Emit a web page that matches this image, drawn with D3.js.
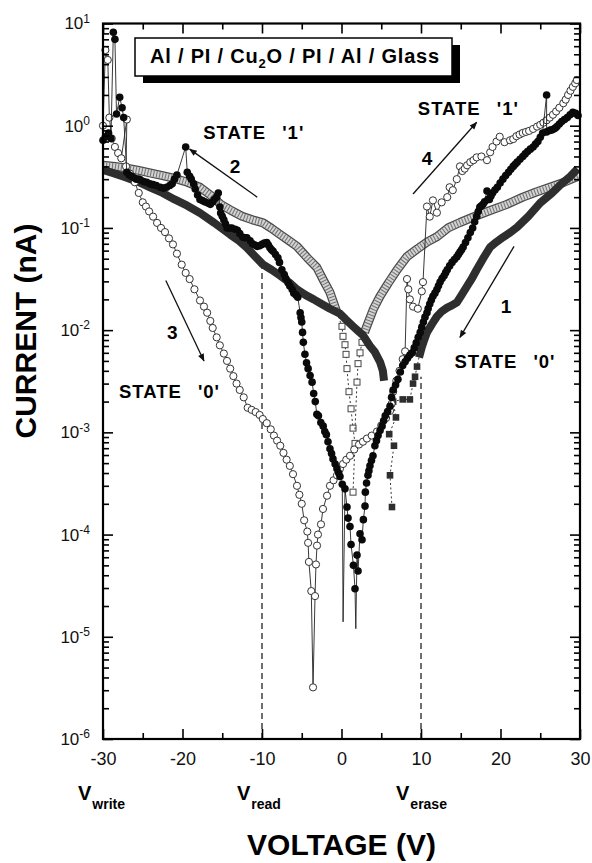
<!DOCTYPE html>
<html lang="en">
<head>
<meta charset="utf-8">
<title>Al / PI / Cu2O / PI / Al memory sweep</title>
<script src="https://cdn.jsdelivr.net/npm/d3@7"></script>
<style>
  body { margin: 0; background: #fff; }
  svg { font-family: "Liberation Sans", Arial, Helvetica, sans-serif; }
  .axis text { fill: #111; }
  .axis line { stroke: #000; stroke-width: 1.6; }
  .axis path { display: none; }
  .frame { fill: none; stroke: #000; stroke-width: 2.2; }
  .lbl { font-weight: bold; fill: #000; }
  .vref { stroke: #333; stroke-width: 1.4; stroke-dasharray: 6, 4; }
  .link { fill: none; stroke: #222; stroke-width: 0.9; }
  .dotlink { fill: none; stroke: #333; stroke-width: 1; stroke-dasharray: 2, 2.5; }
</style>
</head>
<body>
<script>

// ---- tick values ----
var xTicks = [-30, -20, -10, 0, 10, 20, 30];
var xMinor = [-25, -15, -5, 5, 15, 25];
var yDecades = [1e-6, 1e-5, 1e-4, 1e-3, 1e-2, 1e-1, 1, 10];

// ---- data: [voltage (V), current (nA)] ----

// sweep with dark filled squares (thick band)
var darkLeft = [[-30, 0.37], [-28.5, 0.34], [-27, 0.31], [-25.5, 0.28], [-24.1, 0.25], [-22.5, 0.22],
  [-21, 0.19], [-19.4, 0.165], [-17.8, 0.14], [-16, 0.112], [-14, 0.086], [-12.9, 0.075], [-11.9, 0.064],
  [-10.8, 0.052], [-9.9, 0.044], [-8.8, 0.039], [-7.7, 0.034], [-6.5, 0.029], [-5.6, 0.025], [-4.5, 0.022],
  [-3.5, 0.020], [-2.5, 0.018], [-1.45, 0.0162], [-0.2, 0.0145], [0.5, 0.0128], [1.45, 0.0109], [2.1, 0.0098],
  [2.7, 0.0089], [3.58, 0.0070], [4.2, 0.0061], [4.84, 0.0049], [5.2, 0.0040], [5.35, 0.0032]];
var darkRight = [[29.7, 0.38], [28.8, 0.32], [27.9, 0.28], [26.5, 0.22], [25.0, 0.176], [23.5, 0.13],
  [22.1, 0.102], [21.2, 0.09], [20.3, 0.081], [19.5, 0.073], [18.7, 0.065], [17.8, 0.05], [17.0, 0.039],
  [16.4, 0.032], [15.8, 0.027], [15.1, 0.022], [14.5, 0.0186], [13.9, 0.0175], [13.3, 0.0166], [12.6, 0.0152],
  [12.0, 0.0136], [11.4, 0.0115], [10.75, 0.0095], [10.4, 0.0080], [10.1, 0.0068], [9.75, 0.0054]];
var darkTail = [[9.75, 0.0054], [9.5, 0.0044], [9.25, 0.0035], [9.0, 0.0030], [8.6, 0.0021], [7.7, 0.0021],
  [6.5, 0.0020], [6.85, 0.0014], [6.0, 0.00096], [6.6, 0.00074], [6.1, 0.00038], [6.35, 0.000186]];

// sweep with light grey squares (hatched band + open squares near 0 V)
var grayLeft = [[-30, 0.41], [-28.5, 0.40], [-27, 0.385], [-25.5, 0.365], [-24.1, 0.345], [-22.5, 0.325],
  [-21, 0.305], [-19.4, 0.28], [-17.8, 0.25], [-16.5, 0.21], [-15.2, 0.17], [-14, 0.15], [-12.5, 0.13],
  [-11.2, 0.12], [-9.87, 0.112], [-8.8, 0.099], [-7.7, 0.086], [-6.6, 0.075], [-5.6, 0.066], [-4.3, 0.051],
  [-3.1, 0.041], [-2.2, 0.030], [-1.45, 0.0234], [-0.57, 0.0149]];
var grayOpenLeft = [[-0.57, 0.0149], [0.06, 0.0109], [0.19, 0.0087], [0.44, 0.0072], [0.57, 0.0058], [0.69, 0.0042],
  [0.94, 0.0025], [1.2, 0.0017], [1.45, 0.0011], [1.7, 0.00078], [1.45, 0.00026]];
var grayOpenRight = [[1.7, 0.00107], [1.95, 0.0031], [2.08, 0.0047], [2.33, 0.006], [2.58, 0.0076], [2.9, 0.0095]];
var grayRight = [[2.9, 0.0095], [3.2, 0.011], [4.0, 0.016], [4.84, 0.0214], [5.9, 0.029], [7.0, 0.039], [8.2, 0.052],
  [9.5, 0.062], [10.8, 0.073], [12.0, 0.082], [13.4, 0.10], [14.9, 0.113], [16.8, 0.13], [18.7, 0.148],
  [20.8, 0.17], [22.8, 0.20], [24.5, 0.225], [26.2, 0.25], [28.0, 0.28], [29.75, 0.32]];

// sweep with open circles
var openLeft = [[-30, 1.0], [-29.7, 5.5], [-29.4, 4.4], [-29.2, 1.2], [-28.9, 0.75], [-28.5, 0.62], [-28.1, 0.54],
  [-27.7, 0.48], [-27.0, 1.15], [-27.1, 0.40], [-26.6, 0.34], [-26.0, 0.28], [-25.5, 0.22],
  [-25.0, 0.178], [-24.6, 0.162], [-24.2, 0.145], [-23.7, 0.129], [-23.2, 0.112], [-22.7, 0.100], [-22.2, 0.091],
  [-21.7, 0.079], [-21.2, 0.069], [-20.7, 0.056], [-20.1, 0.0437], [-19.6, 0.0363], [-19.1, 0.0316],
  [-18.5, 0.0251], [-17.8, 0.0195], [-17.3, 0.0170], [-16.9, 0.0148], [-16.5, 0.0123], [-16.2, 0.0105],
  [-15.7, 0.0085], [-15.3, 0.0071], [-14.8, 0.0059], [-14.4, 0.0050], [-14.0, 0.0042], [-13.6, 0.00355],
  [-13.2, 0.0030], [-12.8, 0.0026], [-12.3, 0.0022], [-11.8, 0.00174], [-11.3, 0.00166], [-10.8, 0.00158],
  [-10.3, 0.00148], [-9.9, 0.00135], [-9.4, 0.00123], [-8.9, 0.00107], [-8.5, 0.00093], [-8.1, 0.00083],
  [-7.7, 0.00074], [-7.3, 0.00063], [-6.9, 0.00054], [-6.5, 0.00047], [-6.1, 0.00039], [-5.6, 0.00030],
  [-5.3, 0.000245], [-5.0, 0.000200], [-4.7, 0.000138], [-4.3, 0.000107], [-4.2, 0.000083], [-4.1, 0.000054],
  [-3.8, 0.000028], [-3.58, 3.2e-6]];
var openRight = [[-3.58, 3.2e-6], [-3.33, 2.5e-5], [-3.21, 5.1e-5], [-3.08, 7.8e-5], [-2.96, 1.0e-4], [-2.58, 1.26e-4],
  [-2.33, 1.78e-4], [-1.82, 2.4e-4], [-1.45, 3.0e-4], [-1.0, 3.4e-4], [-0.57, 3.8e-4], [-0.2, 4.4e-4],
  [0.19, 4.9e-4], [0.6, 5.4e-4], [1.07, 5.9e-4], [1.6, 6.8e-4], [2.2, 7.6e-4], [2.7, 8.1e-4], [3.2, 8.7e-4],
  [3.8, 9.3e-4], [4.47, 1.02e-3], [5.0, 1.17e-3], [5.6, 1.38e-3], [6.1, 1.62e-3], [6.3, 1.9e-3], [6.5, 2.5e-3],
  [6.9, 3.2e-3], [7.3, 4.0e-3], [7.7, 5.2e-3], [8.0, 6.2e-3], [8.24, 0.0316], [8.4, 0.0251], [8.6, 0.0200],
  [9.0, 0.0170], [9.6, 0.0162], [10.1, 0.024], [10.25, 0.0295], [10.75, 0.162], [11.1, 0.129], [11.5, 0.186],
  [12.0, 0.141], [12.6, 0.178], [13.3, 0.20], [13.6, 0.25], [14.0, 0.234], [14.5, 0.30], [14.9, 0.40],
  [15.2, 0.36], [15.5, 0.38], [15.8, 0.41], [16.2, 0.44], [16.6, 0.46], [17.0, 0.49], [17.6, 0.50], [18.3, 0.46],
  [18.7, 0.55], [19.0, 0.62], [19.5, 0.70], [19.9, 0.78], [20.5, 0.69], [21.2, 0.72], [21.6, 0.74], [22.0, 0.79],
  [22.4, 0.82], [22.8, 0.85], [23.2, 0.87], [23.6, 0.89], [24.1, 0.93], [24.6, 0.98], [25.0, 1.02], [25.4, 1.07],
  [25.8, 1.13], [26.2, 1.20], [26.6, 1.28], [27.0, 1.38], [27.4, 1.50], [27.9, 1.66], [28.2, 1.80], [28.5, 2.0],
  [28.8, 2.2], [29.1, 2.4], [29.4, 2.6], [29.6, 2.8]];

// sweep with filled black circles
var blackLeft = [[-30, 0.72], [-29.7, 0.78], [-29.3, 0.85], [-29.0, 0.75], [-28.7, 8.2], [-28.5, 7.0], [-28.3, 1.3],
  [-27.9, 1.9], [-27.6, 1.5], [-27.4, 1.2], [-27.0, 0.35], [-26.7, 0.33], [-26.4, 0.32], [-26.1, 0.31],
  [-25.8, 0.30], [-25.5, 0.30], [-25.3, 0.295], [-24.9, 0.285], [-24.5, 0.28], [-24.1, 0.27], [-23.7, 0.265],
  [-23.3, 0.26], [-22.8, 0.25], [-22.4, 0.245], [-22.0, 0.25], [-21.6, 0.26], [-21.3, 0.27], [-21.0, 0.30],
  [-20.7, 0.33], [-19.6, 0.62], [-19.4, 0.35], [-19.1, 0.32], [-18.9, 0.30], [-18.6, 0.27], [-18.4, 0.24],
  [-18.1, 0.21], [-17.8, 0.19], [-17.5, 0.185], [-17.2, 0.18], [-16.8, 0.175], [-16.5, 0.17], [-16.2, 0.18],
  [-16.0, 0.19], [-15.7, 0.20], [-15.5, 0.22], [-15.3, 0.16], [-15.2, 0.14], [-15.0, 0.13], [-14.8, 0.12],
  [-14.6, 0.11], [-14.4, 0.10], [-14.1, 0.10], [-13.8, 0.10], [-13.4, 0.097], [-13.1, 0.095], [-12.8, 0.088],
  [-12.4, 0.081], [-12.1, 0.08], [-11.9, 0.08], [-11.5, 0.075], [-11.2, 0.07], [-10.9, 0.068], [-10.6, 0.066],
  [-10.3, 0.067], [-10.0, 0.069], [-9.7, 0.071], [-9.4, 0.072], [-9.2, 0.068], [-9.0, 0.064], [-8.8, 0.061],
  [-8.6, 0.059], [-8.3, 0.055], [-8.0, 0.051], [-7.8, 0.046], [-7.5, 0.039], [-7.2, 0.035], [-7.0, 0.032],
  [-6.7, 0.029], [-6.5, 0.027], [-6.2, 0.025], [-6.0, 0.023], [-5.7, 0.022], [-5.5, 0.021], [-5.2, 0.0148],
  [-5.1, 0.0133], [-5.0, 0.012], [-4.9, 0.0095], [-4.8, 0.0076], [-4.6, 0.0058], [-4.4, 0.0048], [-4.2, 0.0042],
  [-3.95, 0.0036], [-3.7, 0.0031], [-3.5, 0.0024], [-3.3, 0.0020], [-3.1, 0.0015], [-2.9, 0.00145], [-2.6, 0.00125],
  [-2.3, 0.00115], [-2.1, 0.00102], [-1.9, 0.00095], [-1.7, 0.00081], [-1.45, 0.00069], [-1.25, 0.00062],
  [-1.07, 0.00055], [-0.8, 0.00049], [-0.57, 0.00044], [-0.35, 0.0004], [-0.19, 0.00037], [0.1, 0.00031],
  [0.2, 1.4e-5], [0.44, 0.00028], [0.69, 0.000186], [0.82, 0.000145], [1.07, 0.00012], [1.2, 0.00008]];
var blackRight = [[1.2, 0.00008], [1.5, 0.00005], [1.7, 2.95e-5], [1.8, 1.2e-5], [1.95, 6.3e-5], [2.08, 4.4e-5],
  [2.33, 1.02e-4], [2.58, 8.9e-5], [2.75, 1.4e-4], [2.96, 1.9e-4], [3.0, 2.6e-4], [3.15, 3.2e-4], [3.33, 3.8e-4],
  [3.45, 4.2e-4], [3.58, 4.7e-4], [3.77, 5.3e-4], [3.96, 5.9e-4], [4.2, 7.4e-4], [4.4, 8.3e-4], [4.6, 9.3e-4],
  [4.85, 0.00104], [5.1, 0.00115], [5.3, 0.0013], [5.5, 0.00145], [5.8, 0.0016], [6.1, 0.0018], [6.3, 0.0022],
  [6.5, 0.0026], [6.8, 0.0029], [7.1, 0.0033], [7.4, 0.0039], [7.7, 0.0045], [8.0, 0.0049], [8.3, 0.0053],
  [8.6, 0.0057], [8.9, 0.006], [9.15, 0.0067], [9.4, 0.0075], [9.65, 0.0085], [9.9, 0.0095], [10.1, 0.0107],
  [10.3, 0.012], [10.5, 0.0134], [10.75, 0.0148], [10.9, 0.0163], [11.1, 0.018], [11.3, 0.0197], [11.5, 0.0214],
  [11.75, 0.023], [12.0, 0.025], [12.2, 0.0272], [12.4, 0.0295], [12.65, 0.032], [12.9, 0.034], [13.1, 0.0365],
  [13.3, 0.039], [13.6, 0.0425], [13.9, 0.046], [14.2, 0.049], [14.5, 0.052], [14.7, 0.055], [14.9, 0.058],
  [15.1, 0.061], [15.3, 0.065], [15.6, 0.072], [15.9, 0.08], [16.2, 0.09], [16.5, 0.1], [16.75, 0.115],
  [17.0, 0.13], [17.2, 0.145], [17.4, 0.16], [17.6, 0.165], [17.8, 0.17], [18.0, 0.18], [18.3, 0.23],
  [18.4, 0.19], [18.6, 0.19], [18.8, 0.205], [19.0, 0.22], [19.3, 0.235], [19.6, 0.25], [19.95, 0.275],
  [20.3, 0.3], [20.65, 0.325], [21.0, 0.35], [21.3, 0.375], [21.6, 0.40], [21.85, 0.42], [22.1, 0.44],
  [22.45, 0.47], [22.8, 0.5], [23.1, 0.53], [23.4, 0.56], [23.75, 0.59], [24.1, 0.62], [24.4, 0.66], [24.7, 0.7],
  [25.0, 0.77], [25.3, 0.85], [25.8, 2.0], [25.8, 0.87], [26.2, 0.9], [26.45, 0.91], [26.7, 0.93], [26.9, 0.95],
  [27.1, 0.98], [27.4, 1.04], [27.7, 1.1], [28.05, 1.15], [28.4, 1.2], [28.75, 1.28], [29.1, 1.35], [29.45, 1.32],
  [29.75, 1.26]];

// reference voltages (dashed lines) and their top ends
var vRefs = [[-10, 0.041], [10, 0.0035]];
var vNames = [[-30, 'write'], [-10, 'read'], [10, 'erase']];

// annotations, in data coordinates
var arrows = [[[-10.6, 0.20], [-19.1, 0.59]], [[9.0, 0.215], [17.0, 1.08]],
  [[21.7, 0.066], [14.9, 0.0085]], [[-22.1, 0.0306], [-17.3, 0.005]]];
var sweepNums = [['2', -13.4, 0.40], ['4', 10.75, 0.48], ['1', 20.7, 0.017], ['3', -21.3, 0.0095]];
var states = [["STATE '1'", -17.4, 0.74], ["STATE '1'", 9.6, 1.27], ["STATE '0'", 14.2, 0.00425], ["STATE '0'", -28.0, 0.00216]];

// ---- layout ----
var w = 592, h = 863;
var padL = 103, padR = 580, padT = 23.5, padB = 739;

var xScale = d3.scaleLinear().domain([-30, 30]).range([padL, padR]);
var yScale = d3.scaleLog().domain([1e-6, 10]).range([padB, padT]);

var svg = d3.select('body').append('svg').attr('width', w).attr('height', h);

var defs = svg.append('defs');
defs.append('marker')
    .attr('id', 'head')
    .attr('viewBox', '0 0 10 10')
    .attr('refX', 9).attr('refY', 5)
    .attr('markerWidth', 7).attr('markerHeight', 6)
    .attr('orient', 'auto')
  .append('path')
    .attr('d', 'M0,1L10,5L0,9Z')
    .attr('fill', '#111');

var line = d3.line()
    .x(function(d) { return xScale(d[0]); })
    .y(function(d) { return yScale(d[1]); });

// dashed reference lines
svg.selectAll('.vref').data(vRefs).enter().append('line')
    .attr('class', 'vref')
    .attr('x1', function(d) { return xScale(d[0]); })
    .attr('x2', function(d) { return xScale(d[0]); })
    .attr('y1', yScale(1e-6))
    .attr('y2', function(d) { return yScale(d[1]); });

// grey hatched band
[grayLeft, grayRight].forEach(function(arr) {
    svg.append('path').datum(arr).attr('d', line)
        .attr('fill', 'none').attr('stroke', '#4a4a4a').attr('stroke-width', 9).attr('stroke-linejoin', 'round');
    svg.append('path').datum(arr).attr('d', line)
        .attr('fill', 'none').attr('stroke', '#d4d4d4').attr('stroke-width', 6.5).attr('stroke-linejoin', 'round');
    svg.append('path').datum(arr).attr('d', line)
        .attr('fill', 'none').attr('stroke', '#777').attr('stroke-width', 6.5).attr('stroke-dasharray', '1.1,1.9');
});

// grey open squares
[grayOpenLeft, grayOpenRight].forEach(function(arr) {
    svg.append('path').datum(arr).attr('class', 'dotlink').attr('d', line);
    svg.append('g').selectAll('rect').data(arr.slice(1, arr.length - (arr === grayOpenRight ? 1 : 0))).enter().append('rect')
        .attr('x', function(d) { return xScale(d[0]) - 3; })
        .attr('y', function(d) { return yScale(d[1]) - 3; })
        .attr('width', 6).attr('height', 6)
        .attr('fill', '#fff').attr('stroke', '#444').attr('stroke-width', 1);
});

// dark squares band
[darkLeft, darkRight].forEach(function(arr) {
    svg.append('path').datum(arr).attr('d', line)
        .attr('fill', 'none').attr('stroke', '#2e2e2e').attr('stroke-width', 8).attr('stroke-linejoin', 'round');
});
svg.append('path').datum(darkTail).attr('class', 'dotlink').attr('d', line);
svg.append('g').selectAll('rect').data(darkTail.slice(1)).enter().append('rect')
    .attr('x', function(d) { return xScale(d[0]) - 3.3; })
    .attr('y', function(d) { return yScale(d[1]) - 3.3; })
    .attr('width', 6.6).attr('height', 6.6)
    .attr('fill', '#2e2e2e');

// open circles
[openLeft, openRight].forEach(function(arr) {
    svg.append('path').datum(arr).attr('class', 'link').attr('d', line);
});
svg.append('g').selectAll('circle').data(openLeft.concat(openRight.slice(1))).enter().append('circle')
    .attr('cx', function(d) { return xScale(d[0]); })
    .attr('cy', function(d) { return yScale(d[1]); })
    .attr('r', 3.6)
    .attr('fill', '#fff').attr('stroke', '#333').attr('stroke-width', 1);

// filled circles (the deepest drops show only as lines)
[blackLeft, blackRight].forEach(function(arr) {
    svg.append('path').datum(arr).attr('class', 'link').attr('d', line);
});
svg.append('g').selectAll('circle').data(blackLeft.concat(blackRight.slice(1)).filter(function(d) { return d[1] > 2e-5; }))
    .enter().append('circle')
    .attr('cx', function(d) { return xScale(d[0]); })
    .attr('cy', function(d) { return yScale(d[1]); })
    .attr('r', 3.8)
    .attr('fill', '#0a0a0a');

// ---- axes ----
var yMinor = yScale.ticks().filter(function(d) { return Math.abs(Math.log10(d) - Math.round(Math.log10(d))) > 1e-6; });
var plain = function(d) { return String(d); };

svg.append('g').attr('class', 'axis').attr('transform', 'translate(0,' + padB + ')')
    .call(d3.axisBottom(xScale).tickValues(xTicks).tickSize(-10).tickSizeOuter(0).tickPadding(13).tickFormat(plain))
    .selectAll('text').attr('font-size', '18px');
svg.append('g').attr('class', 'axis').attr('transform', 'translate(0,' + padB + ')')
    .call(d3.axisBottom(xScale).tickValues(xMinor).tickSize(-6).tickSizeOuter(0).tickFormat(''));
svg.append('g').attr('class', 'axis').attr('transform', 'translate(0,' + padT + ')')
    .call(d3.axisTop(xScale).tickValues(xTicks).tickSize(-10).tickSizeOuter(0).tickFormat(''));
svg.append('g').attr('class', 'axis').attr('transform', 'translate(0,' + padT + ')')
    .call(d3.axisTop(xScale).tickValues(xMinor).tickSize(-6).tickSizeOuter(0).tickFormat(''));

var yAx = svg.append('g').attr('class', 'axis').attr('transform', 'translate(' + padL + ',0)')
    .call(d3.axisLeft(yScale).tickValues(yDecades).tickSize(-10).tickSizeOuter(0).tickPadding(13).tickFormat(function() { return ''; }));
yAx.selectAll('.tick text').each(function(d) {
    var t = d3.select(this).attr('font-size', '17px');
    t.append('tspan').text('10');
    t.append('tspan').attr('dy', '-0.55em').attr('font-size', '12px').text(Math.round(Math.log10(d)));
});

svg.append('g').attr('class', 'axis').attr('transform', 'translate(' + padL + ',0)')
    .call(d3.axisLeft(yScale).tickValues(yMinor).tickSize(-6).tickSizeOuter(0).tickFormat(''));
svg.append('g').attr('class', 'axis').attr('transform', 'translate(' + padR + ',0)')
    .call(d3.axisRight(yScale).tickValues(yDecades).tickSize(-10).tickSizeOuter(0).tickFormat(''));
svg.append('g').attr('class', 'axis').attr('transform', 'translate(' + padR + ',0)')
    .call(d3.axisRight(yScale).tickValues(yMinor).tickSize(-6).tickSizeOuter(0).tickFormat(''));

svg.append('rect').attr('class', 'frame')
    .attr('x', padL).attr('y', padT).attr('width', padR - padL).attr('height', padB - padT);

// ---- annotations ----
svg.selectAll('.arrow').data(arrows).enter().append('line')
    .attr('class', 'arrow')
    .attr('x1', function(d) { return xScale(d[0][0]); })
    .attr('y1', function(d) { return yScale(d[0][1]); })
    .attr('x2', function(d) { return xScale(d[1][0]); })
    .attr('y2', function(d) { return yScale(d[1][1]); })
    .attr('stroke', '#111').attr('stroke-width', 1.3)
    .attr('marker-end', 'url(#head)');

svg.selectAll('.num').data(sweepNums).enter().append('text')
    .attr('class', 'lbl num')
    .attr('x', function(d) { return xScale(d[1]); })
    .attr('y', function(d) { return yScale(d[2]); })
    .attr('dy', '0.36em')
    .attr('text-anchor', 'middle')
    .attr('font-size', '19px')
    .text(function(d) { return d[0]; });

svg.selectAll('.state').data(states).enter().append('text')
    .attr('class', 'lbl state')
    .attr('x', function(d) { return xScale(d[1]); })
    .attr('y', function(d) { return yScale(d[2]); })
    .attr('font-size', '18.5px')
    .attr('letter-spacing', '1px')
    .attr('word-spacing', '10px')
    .text(function(d) { return d[0]; });

// V labels under the axis
var vl = svg.selectAll('.vname').data(vNames).enter().append('text')
    .attr('class', 'lbl vname')
    .attr('x', function(d) { return xScale(d[0]) - 25; })
    .attr('y', 800);
vl.append('tspan').attr('font-size', '20px').text('V');
vl.append('tspan').attr('font-size', '14px').attr('dx', '1').attr('dy', '9').text(function(d) { return d[1]; });

// title box with shadow
svg.append('rect').attr('x', 143).attr('y', 45).attr('width', 317).attr('height', 38).attr('fill', '#000');
svg.append('rect').attr('x', 135).attr('y', 38).attr('width', 317).attr('height', 38)
    .attr('fill', '#fff').attr('stroke', '#000').attr('stroke-width', 1.5);
var tt = svg.append('text').attr('class', 'lbl').attr('x', 150).attr('y', 63)
    .attr('font-size', '20px').attr('letter-spacing', '0.8px');
tt.append('tspan').text('Al / PI / Cu');
tt.append('tspan').attr('font-size', '13px').attr('dy', '5').text('2');
tt.append('tspan').attr('dy', '-5').text('O / PI / Al / Glass');

// axis titles
svg.append('text').attr('class', 'lbl')
    .attr('x', (padL + padR) / 2).attr('y', 855)
    .attr('text-anchor', 'middle').attr('font-size', '30px')
    .text('VOLTAGE (V)');
svg.append('text').attr('class', 'lbl')
    .attr('transform', 'translate(36,331) rotate(-90)')
    .attr('text-anchor', 'middle').attr('font-size', '30px')
    .text('CURRENT (nA)');

</script>
</body>
</html>
